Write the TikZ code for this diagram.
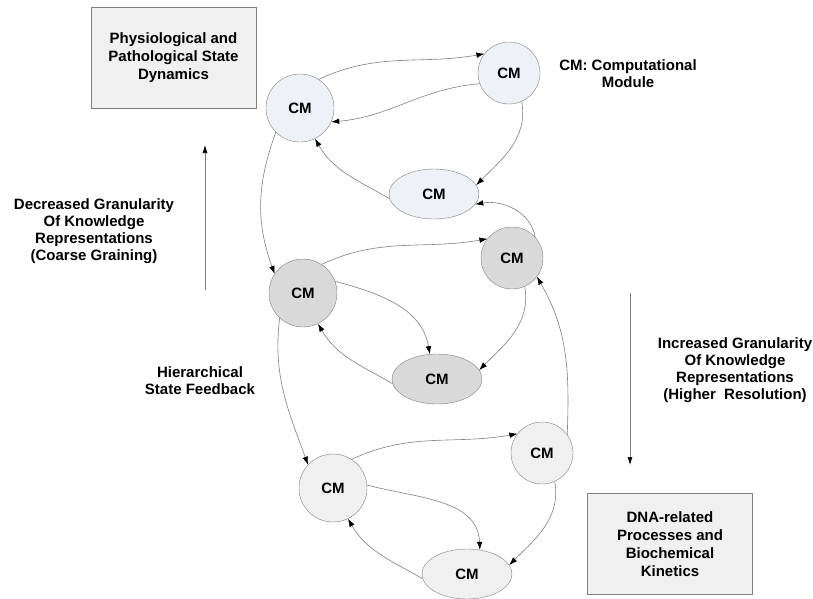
\documentclass[tikz,border=0pt]{standalone}
\usepackage{fontspec}
\setmainfont{Liberation Sans}
\usetikzlibrary{arrows.meta,shapes.geometric}
\definecolor{CMtop}{HTML}{EEF1F6}
\definecolor{CMmid}{HTML}{D9D9D9}
\definecolor{CMbot}{HTML}{F0F0F0}
\definecolor{EdgeGray}{HTML}{7F7F7F}

\begin{document}
\begin{tikzpicture}[x=1pt,y=1pt,
        every node/.style={font=\bfseries\fontsize{15}{17}\selectfont},
        cmnode/.style={circle,draw=EdgeGray,inner sep=0pt},
        cmellipse/.style={ellipse,draw=EdgeGray,inner sep=0pt,minimum width=90pt,minimum height=50pt},
        levelbox/.style={rectangle,draw=EdgeGray,fill=CMbot,minimum width=165pt,minimum height=101pt,align=center,font=\bfseries\fontsize{15}{18}\selectfont},
        conn/.style={draw=EdgeGray,line width=.6pt,-{Latex[length=8pt,width=5.5pt,color=black]}},
        trend/.style={draw=EdgeGray,line width=.7pt,-{Latex[length=8pt,width=5pt,color=black]}},
        note/.style={align=center}]
        \useasboundingbox (0,0) rectangle (813,-598);

        \foreach \g/\px/\py/\col in {a/300/-108/CMtop,b/303/-293/CMmid,c/333/-488/CMbot}
            {
                \begin{scope}[shift={(\px,\py)}]
                    \node[cmnode,fill=\col,minimum size=68pt] (\g1) at (0,0) {CM};
                    \node[cmnode,fill=\col,minimum size=62pt] (\g2) at (209,35) {CM};
                    \node[cmellipse,fill=\col] (\g3) at (134,-86) {CM};
                \end{scope}
                \draw[conn] (\g1.57) to[out=25,in=190] (\g2.142);
                \draw[conn] (\g2.294) to[out=-80,in=45] (\g3.12);
                \draw[conn] (\g3.186) to[out=150,in=300] (\g1.296);
            }
        \draw[conn] (a2.200) to[out=185,in=5] (a1.336);
        \draw[conn] (b1.20) to[out=-15,in=100] (b3.106);
        \draw[conn] (c1.5) to[out=-15,in=92] (c3.62);

        % feedback between levels
        \draw[conn] (a1.225) to[out=250,in=110] (b1.146);
        \draw[conn] (b1.227) to[out=263,in=110] (c1.137);
        \draw[conn] (b2.42) to[out=100,in=10] (a3.346);
        \draw[conn] (c2.36) to[out=88,in=-60] (b2.323);

        \node[levelbox] (phys) at (173.5,-57.5) {Physiological and\\Pathological State\\Dynamics};
        \node[levelbox] (dna) at (670,-544) {DNA-related\\Processes and\\Biochemical\\Kinetics};
        \node[note] (legend) at (628,-74) {CM: Computational\\Module};
        \node[note] (coarse) at (94,-231) {Decreased Granularity\\Of Knowledge\\Representations\\(Coarse Graining)};
        \node[note] (feedback) at (200,-381) {Hierarchical\\State Feedback};
        \node[note] (fine) at (735,-370) {Increased Granularity\\Of Knowledge\\Representations\\(Higher~ Resolution)};

        \coordinate (upfrom) at (205,-290);
        \coordinate (upto) at (205,-145);
        \coordinate (downfrom) at (630,-293);
        \coordinate (downto) at (630,-465);
        \draw[trend] (upfrom) -- (upto);
        \draw[trend] (downfrom) -- (downto);
\end{tikzpicture}
\end{document}
